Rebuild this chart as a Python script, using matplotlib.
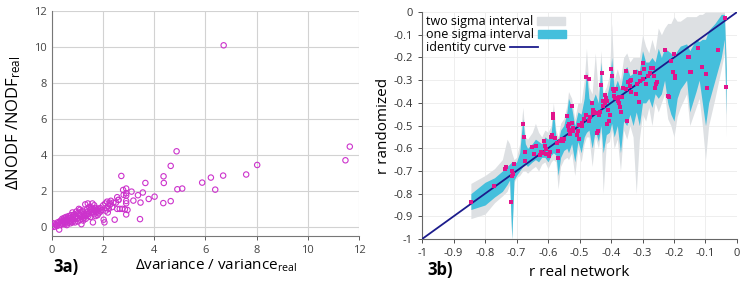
import matplotlib
matplotlib.use("Agg")
import matplotlib.pyplot as plt
from matplotlib.patches import Patch
from matplotlib.lines import Line2D

plt.rcParams['font.family'] = ['Open Sans', 'DejaVu Sans']
plt.rcParams['mathtext.default'] = 'regular'
plt.rcParams['axes.unicode_minus'] = False

# ---- panel 3a: relative change of NODF vs relative change of variance ----
var_ratio = [
    0.02, 0.05, 0.08, 0.12, 0.15, 0.20, 0.22, 0.25, 0.28, 0.30,
    0.32, 0.35, 0.38, 0.40, 0.42, 0.45, 0.48, 0.50, 0.52, 0.55,
    0.58, 0.60, 0.62, 0.65, 0.68, 0.70, 0.72, 0.75, 0.78, 0.80,
    0.82, 0.85, 0.88, 0.90, 0.92, 0.95, 0.98, 1.00, 1.02, 1.05,
    1.08, 1.10, 1.12, 1.15, 1.18, 1.20, 1.22, 1.25, 1.28, 1.30,
    1.32, 1.35, 1.38, 1.40, 1.42, 1.45, 1.48, 1.50, 1.52, 1.55,
    1.58, 1.60, 1.62, 1.65, 1.68, 1.70, 1.72, 1.75, 1.78, 1.80,
    1.82, 1.85, 1.88, 1.90, 1.95, 2.00, 2.02, 2.05, 2.08, 2.10,
    2.12, 2.15, 2.18, 2.20, 2.22, 2.25, 2.28, 2.30, 2.35, 2.40,
    2.45, 2.50, 2.55, 2.60, 2.65,
    0.35, 0.45, 0.55, 0.65, 0.75, 0.85, 0.95, 1.05, 1.15, 1.25,
    1.35, 1.45, 1.55, 1.65, 1.75, 0.60, 0.90, 1.10, 1.40, 1.70,
    0.50, 0.80, 1.00, 1.20, 1.60,
    2.71, 2.78, 2.80, 2.85, 2.90, 2.90, 2.90, 2.90, 2.90, 2.95,
    2.90, 3.11, 3.18, 3.36, 3.44, 3.46, 3.55, 3.65, 3.78, 4.01,
    4.35, 4.36, 4.37, 4.64, 4.64, 4.87, 4.90, 5.09, 5.87, 6.21,
    6.38, 6.69, 6.71, 7.59, 8.02, 11.47, 11.64, 2.55, 2.75, 2.60,
]
nodf_ratio = [
    0.05, 0.20, 0.00, 0.15, 0.10, 0.05, 0.25, 0.20, -0.15, 0.30,
    0.10, 0.35, 0.20, 0.45, 0.15, 0.30, 0.50, 0.25, 0.40, 0.55,
    0.10, 0.45, 0.35, 0.60, 0.30, 0.50, 0.20, 0.65, 0.40, 0.80,
    0.55, 0.35, 0.70, 0.25, 0.60, 0.85, 0.45, 0.50, 0.30, 1.00,
    0.65, 0.40, 0.75, 0.15, 0.55, 0.90, 0.35, 0.70, 0.60, 1.25,
    0.45, 0.80, 1.00, 1.30, 0.60, 0.75, 0.95, 0.55, 1.10, 0.85,
    1.30, 0.25, 1.00, 0.70, 0.90, 1.05, 0.80, 0.95, 0.65, 1.00,
    0.75, 0.90, 1.05, 0.85, 0.95, 1.20, 0.40, 0.25, 1.30, 0.90,
    1.05, 1.40, 0.80, 1.15, 1.00, 1.35, 1.25, 1.45, 1.10, 1.35,
    0.40, 1.35, 1.65, 1.50, 1.00,
    0.25, 0.40, 0.35, 0.50, 0.30, 0.65, 0.55, 0.70, 0.85, 0.50,
    0.65, 1.10, 1.00, 1.20, 0.85, 0.20, 0.45, 0.95, 0.70, 0.60,
    0.15, 0.25, 0.75, 0.45, 0.80,
    2.83, 2.05, 1.78, 0.98, 2.13, 1.87, 1.74, 1.44, 1.31, 0.94,
    0.69, 1.96, 1.46, 1.76, 0.43, 1.35, 1.91, 2.44, 1.55, 1.68,
    1.32, 2.81, 2.44, 1.43, 3.39, 4.20, 2.09, 2.13, 2.46, 2.74,
    2.07, 2.85, 10.09, 2.91, 3.44, 3.70, 4.46, 1.00, 1.00, 1.50,
]

# ---- panel 3b: assortativity r, real network vs randomized ----
r_real = [
    -0.845, -0.770, -0.737, -0.732, -0.718, -0.715, -0.710, -0.713, -0.707, -0.681,
    -0.675, -0.673, -0.672, -0.650, -0.645, -0.637, -0.625, -0.621, -0.617, -0.612,
    -0.611, -0.608, -0.605, -0.597, -0.594, -0.589, -0.587, -0.583, -0.583, -0.578,
    -0.572, -0.568, -0.568, -0.561, -0.557, -0.553, -0.549, -0.539, -0.536, -0.532,
    -0.534, -0.531, -0.523, -0.525, -0.520, -0.520, -0.509, -0.505, -0.503, -0.501,
    -0.493, -0.493, -0.480, -0.485, -0.478, -0.470, -0.470, -0.466, -0.460, -0.457,
    -0.453, -0.457, -0.444, -0.440, -0.444, -0.438, -0.434, -0.433, -0.430, -0.425,
    -0.424, -0.419, -0.418, -0.415, -0.412, -0.412, -0.408, -0.406, -0.404, -0.400,
    -0.396, -0.394, -0.391, -0.390, -0.388, -0.383, -0.378, -0.375, -0.374, -0.372,
    -0.369, -0.366, -0.362, -0.351, -0.349, -0.353, -0.345, -0.340, -0.338, -0.340,
    -0.338, -0.324, -0.322, -0.310, -0.317, -0.309, -0.307, -0.300, -0.295, -0.298,
    -0.290, -0.281, -0.277, -0.274, -0.267, -0.265, -0.260, -0.258, -0.253, -0.229,
    -0.220, -0.215, -0.208, -0.202, -0.200, -0.197, -0.196, -0.157, -0.153, -0.149,
    -0.145, -0.123, -0.110, -0.097, -0.095, -0.060, -0.038, -0.034,
]
r_rand = [
    -0.838, -0.766, -0.690, -0.682, -0.837, -0.700, -0.715, -0.722, -0.668, -0.495,
    -0.551, -0.616, -0.657, -0.594, -0.627, -0.590, -0.629, -0.616, -0.622, -0.569,
    -0.589, -0.602, -0.624, -0.632, -0.617, -0.549, -0.540, -0.467, -0.448, -0.556,
    -0.576, -0.610, -0.645, -0.567, -0.561, -0.568, -0.558, -0.457, -0.504, -0.492,
    -0.520, -0.538, -0.412, -0.488, -0.511, -0.524, -0.540, -0.523, -0.560, -0.497,
    -0.488, -0.501, -0.454, -0.471, -0.284, -0.296, -0.479, -0.461, -0.399, -0.432,
    -0.440, -0.446, -0.532, -0.526, -0.446, -0.454, -0.439, -0.322, -0.268, -0.393,
    -0.415, -0.399, -0.367, -0.379, -0.390, -0.493, -0.431, -0.479, -0.454, -0.250,
    -0.280, -0.340, -0.346, -0.370, -0.377, -0.340, -0.392, -0.373, -0.402, -0.417,
    -0.440, -0.373, -0.333, -0.341, -0.479, -0.259, -0.308, -0.304, -0.299, -0.325,
    -0.350, -0.262, -0.361, -0.396, -0.318, -0.303, -0.268, -0.226, -0.250, -0.295,
    -0.317, -0.283, -0.267, -0.246, -0.247, -0.280, -0.333, -0.318, -0.308, -0.168,
    -0.371, -0.375, -0.214, -0.265, -0.184, -0.281, -0.289, -0.199, -0.200, -0.262,
    -0.265, -0.159, -0.242, -0.272, -0.334, -0.166, -0.027, -0.328,
]

band_x = [
    -0.845, -0.80, -0.77, -0.745, -0.73, -0.722, -0.715, -0.708, -0.70, -0.69,
    -0.68, -0.672, -0.665, -0.65, -0.64, -0.63, -0.62, -0.61, -0.60, -0.59,
    -0.583, -0.575, -0.568, -0.56, -0.55, -0.54, -0.535, -0.525, -0.515, -0.505,
    -0.495, -0.485, -0.478, -0.47, -0.46, -0.45, -0.44, -0.432, -0.425, -0.415,
    -0.405, -0.398, -0.39, -0.38, -0.37, -0.36, -0.35, -0.34, -0.33, -0.32,
    -0.31, -0.30, -0.29, -0.28, -0.27, -0.26, -0.25, -0.24, -0.23, -0.22,
    -0.21, -0.20, -0.19, -0.18, -0.16, -0.15, -0.13, -0.12, -0.11, -0.10,
    -0.09, -0.07, -0.05, -0.04, -0.034,
]
one_lo = [
    -0.87, -0.85, -0.815, -0.79, -0.76, -0.74, -1.0, -0.74, -0.72, -0.70,
    -0.68, -0.67, -0.68, -0.66, -0.65, -0.66, -0.64, -0.64, -0.66, -0.63,
    -0.62, -0.63, -0.72, -0.64, -0.61, -0.60, -0.62, -0.58, -0.66, -0.57,
    -0.62, -0.55, -0.53, -0.52, -0.60, -0.52, -0.57, -0.50, -0.62, -0.54,
    -0.53, -0.49, -0.55, -0.50, -0.62, -0.48, -0.50, -0.45, -0.50, -0.44,
    -0.50, -0.40, -0.40, -0.38, -0.42, -0.36, -0.38, -0.36, -0.30, -0.40,
    -0.45, -0.48, -0.38, -0.34, -0.30, -0.44, -0.35, -0.30, -0.40, -0.50,
    -0.40, -0.30, -0.20, -0.12, -0.45,
]
one_hi = [
    -0.80, -0.75, -0.73, -0.70, -0.68, -0.67, -0.66, -0.67, -0.66, -0.62,
    -0.47, -0.58, -0.60, -0.58, -0.56, -0.57, -0.58, -0.55, -0.56, -0.53,
    -0.43, -0.55, -0.57, -0.52, -0.50, -0.44, -0.38, -0.42, -0.50, -0.44,
    -0.45, -0.38, -0.26, -0.38, -0.40, -0.36, -0.40, -0.22, -0.40, -0.38,
    -0.32, -0.20, -0.34, -0.30, -0.34, -0.26, -0.24, -0.28, -0.27, -0.25,
    -0.26, -0.17, -0.22, -0.22, -0.20, -0.22, -0.16, -0.20, -0.16, -0.17,
    -0.18, -0.20, -0.17, -0.15, -0.14, -0.17, -0.12, -0.13, -0.12, -0.12,
    -0.08, -0.05, -0.01, -0.01, -0.25,
]
two_lo = [
    -0.91, -0.89, -0.84, -0.81, -0.79, -0.76, -1.0, -0.75, -0.73, -0.72,
    -0.70, -0.70, -0.71, -0.69, -0.68, -0.70, -0.67, -0.66, -0.69, -0.66,
    -0.65, -0.66, -0.78, -0.68, -0.65, -0.64, -0.65, -0.62, -0.72, -0.60,
    -0.66, -0.58, -0.55, -0.55, -0.68, -0.55, -0.60, -0.53, -0.80, -0.58,
    -0.57, -0.52, -0.60, -0.56, -0.70, -0.52, -0.56, -0.50, -0.55, -0.80,
    -0.56, -0.45, -0.48, -0.42, -0.50, -0.40, -0.44, -0.40, -0.36, -0.47,
    -0.50, -0.55, -0.46, -0.42, -0.36, -0.50, -0.42, -0.38, -0.50, -0.65,
    -0.50, -0.38, -0.25, -0.18, -0.55,
]
two_hi = [
    -0.755, -0.72, -0.69, -0.65, -0.56, -0.58, -0.62, -0.65, -0.64, -0.58,
    -0.42, -0.55, -0.56, -0.53, -0.49, -0.53, -0.55, -0.52, -0.53, -0.50,
    -0.40, -0.52, -0.55, -0.49, -0.47, -0.41, -0.35, -0.38, -0.47, -0.40,
    -0.40, -0.30, -0.16, -0.33, -0.36, -0.18, -0.36, -0.17, -0.36, -0.33,
    -0.28, -0.05, -0.30, -0.25, -0.30, -0.20, -0.18, -0.22, -0.20, -0.20,
    -0.20, -0.10, -0.15, -0.18, -0.12, -0.17, -0.07, -0.10, -0.07, -0.05,
    -0.05, -0.02, -0.04, -0.04, -0.02, -0.02, -0.02, -0.01, -0.01, 0.0,
    0.0, 0.0, 0.0, 0.0, -0.20,
]

GRAY = '#dde0e3'
CYAN = '#45bfdc'
NAVY = '#1c1c8c'
PINK = '#e0148c'
MAGENTA = '#cc33cc'

fig = plt.figure(figsize=(7.47, 2.88), dpi=100)

# left panel
ax1 = fig.add_axes([0.0696, 0.181, 0.411, 0.781])
ax1.scatter(var_ratio, nodf_ratio, s=15, facecolors='none', edgecolors=MAGENTA,
            linewidths=0.8, zorder=3)
ax1.set_xlim(0, 12)
ax1.set_ylim(-0.5, 12)
ax1.set_xticks(range(0, 13, 2))
ax1.set_yticks(range(0, 13, 2))
ax1.grid(True, color='#d2d2d2', linewidth=0.8)
ax1.set_axisbelow(True)
for s in ['top', 'right']:
    ax1.spines[s].set_visible(False)
for s in ['left', 'bottom']:
    ax1.spines[s].set_color('#777777')
ax1.tick_params(labelsize=8, colors='#444444', length=3, width=0.6)
ax1.tick_params(axis='y', length=0)
ax1.set_xlabel('Δvariance / variance$_{real}$', fontsize=11)
ax1.xaxis.set_label_coords(0.535, -0.095)
ax1.set_ylabel('ΔNODF /NODF$_{real}$', fontsize=12, labelpad=8)

# right panel
ax2 = fig.add_axes([0.565, 0.170, 0.4216, 0.788])
ax2.fill_between(band_x, two_lo, two_hi, color=GRAY, linewidth=0, zorder=1)
ax2.fill_between(band_x, one_lo, one_hi, color=CYAN, linewidth=0, zorder=2)
ax2.plot([-1, 0], [-1, 0], color=NAVY, linewidth=1.3, zorder=3)
ax2.scatter(r_real, r_rand, s=5, marker='s', color=PINK, linewidths=0, zorder=4)
ax2.set_xlim(-1, 0)
ax2.set_ylim(-1, 0)
ticks = [-1, -0.9, -0.8, -0.7, -0.6, -0.5, -0.4, -0.3, -0.2, -0.1, 0]
labels = ['-1', '-0.9', '-0.8', '-0.7', '-0.6', '-0.5', '-0.4', '-0.3', '-0.2', '-0.1', '0']
ax2.set_xticks(ticks, labels)
ax2.set_yticks(ticks, labels)
ax2.grid(True, color='#eeeeee', linewidth=0.7)
ax2.set_axisbelow(True)
for s in ['top', 'right']:
    ax2.spines[s].set_visible(False)
for s in ['left', 'bottom']:
    ax2.spines[s].set_color('#666666')
ax2.tick_params(labelsize=8, colors='#333333', length=3, width=0.6)
ax2.set_xlabel('r real network', fontsize=11, labelpad=4)
ax2.set_ylabel('r randomized', fontsize=11, labelpad=2)

handles = [Patch(color=GRAY), Patch(color=CYAN), Line2D([], [], color=NAVY, linewidth=1.3)]
leg = ax2.legend(handles, ['two sigma interval', 'one sigma interval', 'identity curve'],
                 loc='upper left', bbox_to_anchor=(-0.01, 1.02), frameon=False,
                 markerfirst=False, fontsize=9, labelspacing=0.0, handlelength=2.2,
                 handleheight=0.6, handletextpad=0.3, borderaxespad=0.2)
# keep text left-aligned with the keys trailing right after it
for col in leg._legend_handle_box.get_children():
    col.align = 'baseline'

fig.text(0.088, 0.072, '3a)', fontsize=12, fontweight='bold', ha='center', va='center')
fig.text(0.589, 0.062, '3b)', fontsize=12, fontweight='bold', ha='center', va='center')

fig.savefig('out.png', dpi=100)
